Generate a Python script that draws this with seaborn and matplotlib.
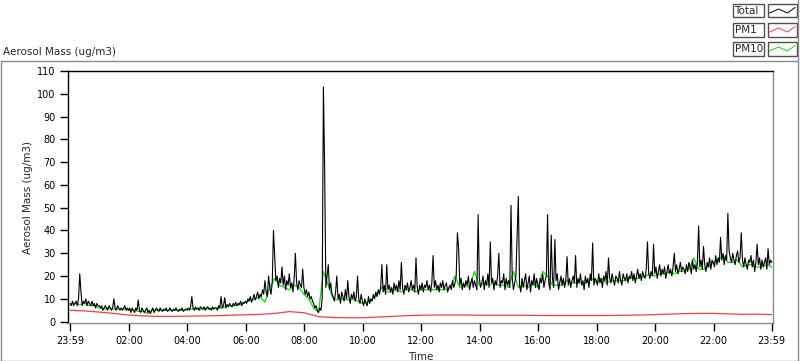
import numpy as np
import pandas as pd
import matplotlib
matplotlib.use("Agg")
import matplotlib.pyplot as plt
import seaborn as sns
from matplotlib.patches import Rectangle
from matplotlib.lines import Line2D

sns.set_style("white")
plt.rcParams['font.family'] = ['DejaVu Sans']

# ---- data ----
TOTAL_STEP_MIN = 2.5    # Total read every 2.5 minutes from 23:59
PM10_STEP_MIN = 10      # PM10 read every 10 minutes
PM1_STEP_MIN = 30       # PM1 read every 30 minutes

total = [
    # 00h
    8, 7, 9, 7, 8, 9, 7, 10, 21, 13, 7, 9, 8, 10, 7, 9, 8, 7, 9, 7, 8, 6, 8, 7,
    # 01h
    7, 6, 7, 5, 6, 7, 6, 5, 7, 6, 5, 6, 10, 6, 5, 7, 6, 5, 6, 5, 6, 7, 5, 6,
    # 02h
    5, 6, 4, 6, 5, 4, 6, 5, 9.5, 5, 4, 6, 5, 4, 5, 6, 4, 5, 3.5, 5, 6, 4, 5, 6,
    # 03h
    5, 4.5, 6, 5, 4.5, 5.5, 5, 6, 4.5, 5, 6, 5, 4.5, 5.5, 5, 6, 5, 4.5, 5.5, 5, 6, 4.5, 5, 5.5,
    # 04h
    5, 6, 5, 6.5, 11, 6, 5, 6.5, 5.5, 6, 5, 6.5, 6, 5.5, 6.5, 5, 6, 6.5, 5.5, 6, 5, 6.5, 5.5, 6,
    # 05h
    6, 5, 7, 6, 11, 6, 7, 10.5, 6, 7.5, 6.5, 8, 7, 6.5, 8, 7, 8.5, 7, 8, 7.5, 9, 7, 8.5, 8,
    # 06h
    9, 8, 10, 9, 11, 8.5, 10, 12, 9.5, 11, 13, 10, 12, 11, 14, 12, 18, 13, 11, 20, 15, 12, 17, 40,
    # 07h
    29, 18, 20, 15, 19, 17, 24, 16, 20, 14, 18, 16, 21, 15, 17, 13, 19, 30, 17, 14, 18, 16, 15, 23,
    # 08h
    15, 12, 14, 11, 13, 10, 11, 9, 8, 6, 7, 5, 4, 6, 5, 10, 103, 68, 15, 20, 25, 14, 17, 12,
    # 09h
    11, 9, 13, 20, 10, 12, 8, 13, 11, 9, 14, 10, 18, 11, 8, 12, 10, 13, 9, 11, 20, 10, 8, 12,
    # 10h
    9, 7, 10, 8, 7, 11, 8, 10, 9, 12, 10, 13, 11, 14, 12, 15, 25, 13, 16, 12, 25, 14, 16, 13,
    # 11h
    15, 12, 17, 14, 16, 13, 18, 14, 26, 15, 12, 16, 14, 17, 13, 15, 18, 14, 16, 13, 28, 15, 12, 16,
    # 12h
    14, 17, 13, 16, 15, 18, 14, 16, 13, 17, 29, 15, 18, 14, 16, 13, 17, 15, 18, 14, 16, 17, 13, 15,
    # 13h
    16, 14, 18, 15, 17, 20, 39, 32, 16, 19, 14, 17, 15, 18, 16, 20, 14, 17, 19, 15, 18, 16, 14, 47,
    # 14h
    19, 15, 17, 20, 14, 18, 16, 21, 15, 35, 17, 19, 14, 18, 16, 20, 30, 15, 18, 17, 21, 14, 19, 16,
    # 15h
    18, 15, 51, 19, 14, 17, 20, 37, 55, 16, 13, 19, 15, 18, 21, 14, 17, 20, 13, 18, 16, 21, 15, 19,
    # 16h
    16, 14, 19, 17, 21, 15, 18, 20, 47, 17, 14, 38, 19, 15, 36, 18, 21, 14, 17, 20, 16, 19, 15, 18,
    # 17h
    28.5, 16, 19, 15, 18, 20, 17, 29, 15, 19, 17, 21, 16, 18, 14, 20, 17, 19, 15, 21, 18, 34.5, 16, 19,
    # 18h
    18, 16, 21, 17, 19, 15, 20, 18, 22, 16, 28, 19, 17, 21, 18, 16, 20, 19, 17, 22, 18, 16, 21, 19,
    # 19h
    18, 21, 17, 20, 19, 22, 18, 21, 17, 20, 23, 19, 21, 18, 22, 20, 19, 23, 35, 21, 19, 22, 20, 34,
    # 20h
    21, 24, 19, 22, 25, 20, 23, 21, 24, 19, 22, 25, 21, 23, 20, 24, 30, 22, 25, 21, 23, 26, 22, 24,
    # 21h
    23, 21, 25, 22, 26, 24, 21, 27, 23, 25, 22, 26, 42, 24, 27, 23, 33, 25, 22, 26, 24, 28, 23, 27,
    # 22h
    26, 24, 29, 25, 28, 26, 37, 27, 30, 25, 29, 27, 47.5, 31, 28, 26, 30, 27, 25, 29, 31, 26, 28, 39,
    # 23h (+ final reading at 23:59)
    27, 24, 28, 25, 23, 27, 26, 29, 24, 27, 22, 26, 34, 25, 28, 23, 27, 24, 26, 28, 23, 32, 25, 27, 26,
]

pm10 = [
    7.5, 8, 7.5, 8, 7, 7,
    6, 5.5, 6, 5.5, 5.5, 5.5,
    5, 5, 4.5, 4.5, 3.5, 5,
    5, 5, 5, 5, 5, 5,
    5.5, 5.5, 5.5, 5.5, 5.5, 5.5,
    6, 6, 6.5, 7, 7, 7.5,
    8.5, 9.5, 10, 11, 8.5, 15,
    19, 16, 15, 14, 16, 15,
    12, 10, 6, 4, 22, 16,
    10, 9.5, 10, 9.5, 10, 9,
    8, 8.5, 10, 12, 15, 13,
    13, 14, 13, 14, 14, 13,
    14, 14, 14, 14, 14, 14,
    15, 20, 15, 16, 15, 22,
    16, 17, 16, 17, 16, 16,
    15, 22, 15, 16, 15, 17,
    15, 22, 20, 16, 16, 16,
    18, 17, 17, 17, 17, 19,
    17, 19, 17, 18, 18, 18,
    18, 19, 19, 19, 20, 21,
    20, 21, 21, 22, 21, 22,
    22, 23, 28, 23, 23, 24,
    26, 27, 29, 26, 26, 27,
    24, 25, 25, 24, 24, 25, 24,
]

pm1 = [
    5.0, 4.7, 4.2, 3.6, 2.9, 2.5, 2.3, 2.3, 2.4, 2.5, 2.6, 2.8,
    3.0, 3.2, 3.6, 4.4, 3.9, 2.2, 1.8, 1.7, 1.7, 2.0, 2.3, 2.6,
    2.8, 2.9, 2.9, 2.9, 2.8, 2.8, 2.8, 2.8, 2.7, 2.7, 2.7, 2.7,
    2.7, 2.7, 2.8, 2.9, 3.1, 3.3, 3.5, 3.6, 3.6, 3.4, 3.2, 3.3, 3.1,
]

tick_labels = ["23:59", "02:00", "04:00", "06:00", "08:00", "10:00", "12:00",
               "14:00", "16:00", "18:00", "20:00", "22:00", "23:59"]
y_ticks = [0, 10, 20, 30, 40, 50, 60, 70, 80, 90, 100, 110]
series_names = ["Total", "PM1", "PM10"]
series_colors = ["#000000", "#ff3c3c", "#00e600"]

# ---- frames ----
df_total = pd.DataFrame({"Time": np.arange(len(total)) * TOTAL_STEP_MIN, "Total": total})
df_pm10 = pd.DataFrame({"Time": np.arange(len(pm10)) * PM10_STEP_MIN, "PM10": pm10})
df_pm1 = pd.DataFrame({"Time": np.arange(len(pm1)) * PM1_STEP_MIN, "PM1": pm1})

W, H = 800, 361
fig = plt.figure(figsize=(W / 100, H / 100), dpi=100)

def fx(x):
    return x / W

def fy(y):
    return 1 - y / H

L, R, T, B = 68.3, 772.7, 71.0, 323.0
ax = fig.add_axes([fx(L), fy(B), (R - L) / W, (B - T) / H])

sns.lineplot(data=df_pm10, x="Time", y="PM10", color=series_colors[2], lw=0.9, ax=ax, zorder=2)
sns.lineplot(data=df_total, x="Time", y="Total", color=series_colors[0], lw=0.8, ax=ax, zorder=3)
sns.lineplot(data=df_pm1, x="Time", y="PM1", color=series_colors[1], lw=0.9, ax=ax, zorder=4)

ax.set_xlim(-3.5, 1442)
ax.set_ylim(-0.6, 110)

major = [0] + [121 + 120 * k for k in range(11)] + [1440]
minor = [m for m in range(1, 1440, 15) if m not in major]
ax.set_xticks(major)
ax.set_xticklabels(tick_labels)
ax.set_xticks(minor, minor=True)
ax.set_yticks(y_ticks)
ax.set_yticklabels([str(v) for v in y_ticks])

ax.tick_params(axis='both', which='major', direction='out', length=6, width=1,
               colors='black', labelsize=7, pad=3)
ax.tick_params(axis='x', which='minor', direction='out', length=3, width=1, colors='black')
ax.tick_params(axis='x', which='major', bottom=True)
ax.tick_params(axis='y', which='major', left=True)

for s in ['top', 'left']:
    ax.spines[s].set_color('black')
    ax.spines[s].set_linewidth(1)
for s in ['bottom', 'right']:
    ax.spines[s].set_color('#8a8a8a')
    ax.spines[s].set_linewidth(1)

ax.set_xlabel("Time", fontsize=7.5)
ax.set_ylabel("Aerosol Mass (ug/m3)", fontsize=7.5)
ax.xaxis.set_label_coords(0.5, (B - 352) / (B - T))
ax.yaxis.set_label_coords((33 - L) / (R - L), 0.5)

# ---- outer panel frame ----
fig.patches.append(Rectangle((fx(0.5), fy(360.5)), 797 / W, 299.5 / H,
                             transform=fig.transFigure, fill=False,
                             edgecolor='#8a8a8a', lw=1))
fig.lines.append(Line2D([fx(797.5), fx(797.5)], [fy(0), fy(61)],
                        transform=fig.transFigure, color='#8a8a8a', lw=1))

fig.text(fx(3), fy(52), "Aerosol Mass (ug/m3)", fontsize=7.5, va='center', ha='left')

# ---- legend (plot legend boxes) ----
rows = [(4, 17), (23, 37), (42, 56)]
for name, color, (y0, y1) in zip(series_names, series_colors, rows):
    fig.patches.append(Rectangle((fx(732.5), fy(y1)), 31 / W, (y1 - y0) / H,
                                 transform=fig.transFigure, fill=True, facecolor='white',
                                 edgecolor='#505050', lw=1))
    fig.text(fx(734.5), fy((y0 + y1) / 2), name, fontsize=7.5, va='center', ha='left')
    fig.patches.append(Rectangle((fx(767.5), fy(y1)), 29 / W, (y1 - y0) / H,
                                 transform=fig.transFigure, fill=True, facecolor='white',
                                 edgecolor='#505050', lw=1))
    gx = [769.5, 778.5, 787.5, 795]
    gy = [y0 + 9, y0 + 5, y0 + 9, y0 + 3.5]
    fig.lines.append(Line2D([fx(v) for v in gx], [fy(v) for v in gy],
                            transform=fig.transFigure, color=color, lw=0.7))

fig.savefig("out.png", dpi=100)
